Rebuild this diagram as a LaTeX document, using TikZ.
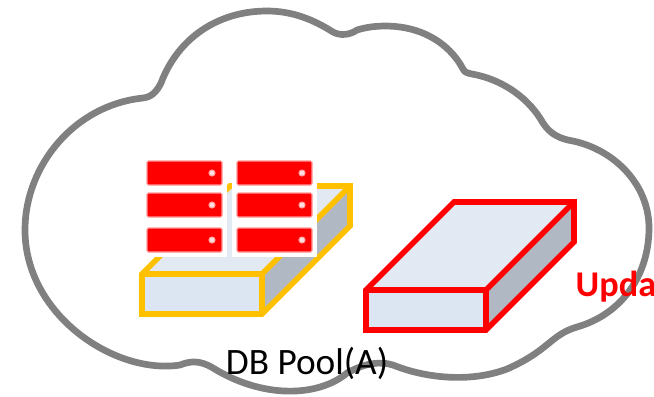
\documentclass[tikz,border=0pt]{standalone}
\usepackage{fontspec}
\setmainfont{Carlito}
\definecolor{topblue}{HTML}{E2E9F3}
\definecolor{frontblue}{HTML}{DCE6F2}
\definecolor{sidegray}{HTML}{B0B9C3}
\definecolor{poolyellow}{HTML}{FFC000}
\definecolor{cloudgray}{HTML}{808080}
\tikzset{
  cloudline/.style={line width=1.9pt,draw=cloudgray},
  unitbox/.style={fill=red,draw=red!40,line width=0.3pt,rounded corners=0.4pt},
  unitled/.style={fill=white!88!red,draw=red!35,line width=0.3pt},
}
\newcommand{\poolbox}[2]{%
  \begin{scope}[shift={#1}]
    \fill[topblue] (0,0) -- (88,-88) -- (208,-88) -- (120,0) -- cycle;
    \fill[frontblue] (0,0) rectangle (120,40);
    \fill[sidegray] (120,0) -- (208,-88) -- (208,-48) -- (120,40) -- cycle;
    \draw[#2,line width=1.6pt,line join=miter]
      (0,0) -- (88,-88) -- (208,-88) -- (208,-48) -- (120,40) -- (0,40) -- cycle
      (0,0) -- (120,0) -- (120,40) (120,0) -- (208,-88);
  \end{scope}}
\begin{document}
\begin{tikzpicture}[x=0.01cm,y=-0.01cm]
  \useasboundingbox (0,0) rectangle (654,396);
  % cloud
  \draw[cloudline] (143,98)
    .. controls (152,97) and (157,91) .. (161,83)
    .. controls (178,38) and (218,11) .. (267,11)
    .. controls (293,11) and (314,20) .. (333,32)
    .. controls (340,36) and (350,35) .. (357,30)
    .. controls (370,26) and (385,25) .. (400,27)
    .. controls (430,31) and (452,48) .. (463,69)
    .. controls (465,73) and (468,73) .. (472,74)
    .. controls (505,80) and (530,100) .. (543,123)
    .. controls (550,134) and (560,139) .. (573,141)
    .. controls (615,150) and (649,185) .. (649,228)
    .. controls (649,275) and (622,314) .. (577,327)
    .. controls (550,335) and (550,350) .. (507,369)
    .. controls (470,383) and (425,378) .. (393,365)
    .. controls (380,361) and (365,363) .. (347,373)
    .. controls (320,396) and (265,400) .. (213,368)
    .. controls (200,360) and (190,361) .. (180,365)
    .. controls (115,375) and (25,315) .. (25,230)
    .. controls (25,165) and (75,105) .. (143,98) -- cycle;
  % boxes
  \poolbox{(142,274)}{poolyellow}
  \poolbox{(366,290)}{red}
  % servers
  \fill[white] (140,150) rectangle (227,257);
  \fill[white] (232,150) rectangle (317,257);
  \foreach \x in {147,237}{
    \foreach \y in {161,193,228}{
      \path[unitbox] (\x,\y) rectangle ++(75,24);
      \path[unitled] (\x+65,\y+12) circle (3);
    }
  }
  % labels
  \node[font=\fontsize{10.6pt}{12pt}\selectfont,inner sep=0pt] (poolname) at (307,363) {DB Pool(A)};
  \node[font=\fontsize{10.3pt}{12pt}\selectfont\bfseries,text=red,anchor=west,inner sep=0pt] (updname) at (575,287) {Upda};
\end{tikzpicture}
\end{document}
